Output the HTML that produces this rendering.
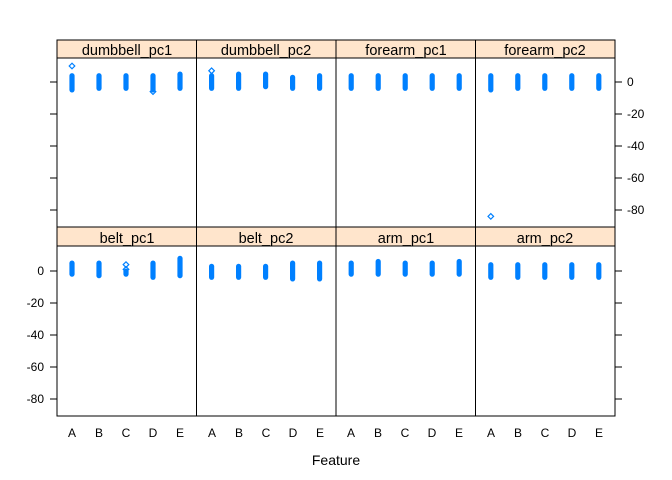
<!DOCTYPE html>
<html><head><meta charset="utf-8"><style>
html,body{margin:0;padding:0;background:#fff;}
svg{display:block;font-family:"Liberation Sans",Arial,sans-serif;}
</style></head><body>
<svg id="s" width="672" height="480" viewBox="0 0 672 480" xmlns="http://www.w3.org/2000/svg">
<rect width="672" height="480" fill="#fff"/>
<g fill="#ffe5cc" stroke="#000" stroke-width="1">
<rect x="57" y="40" width="558" height="18"/>
<rect x="57" y="227" width="558" height="19"/>
</g>
<g fill="none" stroke="#000" stroke-width="1">
<rect x="57" y="58" width="558" height="169"/>
<rect x="57" y="246" width="558" height="170"/>
<line x1="196.5" y1="40" x2="196.5" y2="416"/>
<line x1="336" y1="40" x2="336" y2="416"/>
<line x1="475.5" y1="40" x2="475.5" y2="416"/>
<path d="M50 82H57M50 114H57M50 146H57M50 178H57M50 210H57"/>
<path d="M615 82H622M615 114H622M615 146H622M615 178H622M615 210H622"/>
<path d="M50 271H57M50 303H57M50 335H57M50 367H57M50 399H57"/>
<path d="M615 271H622M615 303H622M615 335H622M615 367H622M615 399H622"/>
</g>
<g font-size="14.5" text-anchor="middle" fill="#000">
<text x="127" y="55">dumbbell_pc1</text>
<text x="266" y="55">dumbbell_pc2</text>
<text x="406" y="55">forearm_pc1</text>
<text x="545" y="55">forearm_pc2</text>
<text x="127" y="243">belt_pc1</text>
<text x="266" y="243">belt_pc2</text>
<text x="406" y="243">arm_pc1</text>
<text x="545" y="243">arm_pc2</text>
</g>
<g font-size="12" fill="#000">
<text x="627" y="86">0</text>
<text x="627" y="118">-20</text>
<text x="627" y="150">-40</text>
<text x="627" y="182">-60</text>
<text x="627" y="214">-80</text>
<g text-anchor="end">
<text x="44" y="275">0</text>
<text x="44" y="307">-20</text>
<text x="44" y="339">-40</text>
<text x="44" y="371">-60</text>
<text x="44" y="403">-80</text>
</g>
</g>
<g font-size="12" text-anchor="middle" fill="#000">
<text x="72" y="437">A</text><text x="99" y="437">B</text><text x="126" y="437">C</text><text x="153" y="437">D</text><text x="180" y="437">E</text>
<text x="212" y="437">A</text><text x="239" y="437">B</text><text x="266" y="437">C</text><text x="293" y="437">D</text><text x="320" y="437">E</text>
<text x="351" y="437">A</text><text x="378" y="437">B</text><text x="405" y="437">C</text><text x="432" y="437">D</text><text x="459" y="437">E</text>
<text x="491" y="437">A</text><text x="518" y="437">B</text><text x="545" y="437">C</text><text x="572" y="437">D</text><text x="599" y="437">E</text>
<text x="336" y="465" font-size="14">Feature</text>
</g>
<g id="pts" fill="#0080ff"></g>
<g id="circ" fill="none" stroke="#0080ff" stroke-width="1.2"></g>
<script>
var data=[
 [82,[[4,-5],[4,-4],[4,-4],[4,-5],[5,-4]],[[0,10],[3,-6]]],
 [82,[[4,-4],[5,-4],[5,-3],[3,-4],[4,-4]],[[0,7]]],
 [82,[[4,-4],[4,-4],[4,-4],[4,-4],[4,-4]],[]],
 [82,[[4,-5],[4,-4],[4,-4],[4,-4],[4,-4]],[[0,-84]]],
 [271,[[5,-2],[5,-3],[0,-2],[5,-4],[8,-3]],[[2,4],[2,1]]],
 [271,[[3,-4],[3,-4],[3,-4],[5,-5],[5,-5]],[]],
 [271,[[5,-2],[6,-2],[5,-2],[5,-2],[6,-2]],[]],
 [271,[[4,-4],[4,-4],[4,-4],[4,-4],[4,-4]],[]]];
var g=document.getElementById('pts'),c=document.getElementById('circ'),ns='http://www.w3.org/2000/svg';
data.forEach(function(d,k){var col=k%4,left=57+139.6*col;
 d[1].forEach(function(r,i){var x=left+15+27*i,y1=d[0]-1.6*r[0]-2.5,y2=d[0]-1.6*r[1]+2.5;
  var e=document.createElementNS(ns,'rect');e.setAttribute('x',x-2.6);e.setAttribute('y',y1);e.setAttribute('width',5.2);e.setAttribute('height',y2-y1);e.setAttribute('rx',2.6);g.appendChild(e);});
 d[2].forEach(function(p){var x=left+15+27*p[0],y=d[0]-1.6*p[1];
  var e=document.createElementNS(ns,'path');e.setAttribute('d','M'+(x-2.8)+' '+y+'L'+x+' '+(y-2.8)+'L'+(x+2.8)+' '+y+'L'+x+' '+(y+2.8)+'Z');c.appendChild(e);});
});
</script>
</svg>
</body></html>
